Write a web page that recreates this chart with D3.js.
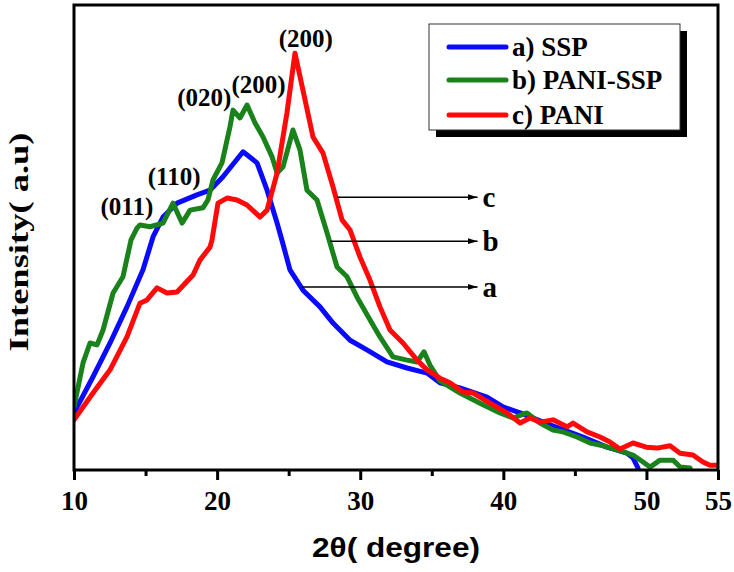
<!DOCTYPE html>
<html>
<head>
<meta charset="utf-8">
<script src="https://cdn.jsdelivr.net/npm/d3@7"></script>
<style>
html,body{margin:0;padding:0;background:#fff;}
svg{display:block;}
</style>
</head>
<body>
<svg id="chart" width="734" height="572"></svg>
<script>
// ---- data (2θ in degrees, intensity in arbitrary units) ----
const seriesNames = ["a) SSP", "b) PANI-SSP", "c) PANI"];
const seriesColors = ["#0a0aff", "#1a821a", "#ff0a0a"];

const sspX = [10.0,11.33,12.52,13.70,14.82,15.52,16.22,17.20,18.59,19.50,20.41,21.81,22.79,23.49,24.19,24.53,25.09,26.00,27.19,28.10,29.29,30.47,31.87,33.27,34.67,35.57,36.97,38.86,39.98,41.17,43.26,45.57,47.24,48.64,49.06,49.41];
const sspY = [11.9,19.7,27.0,34.8,42.8,49.9,54.2,57.2,59.0,60.0,62.9,68.3,65.9,60.0,52.9,49.2,42.8,38.4,34.8,31.3,27.6,25.5,22.9,21.6,20.5,18.4,17.3,15.3,13.2,11.9,9.3,6.7,4.5,3.2,2.2,0];

const paniSspX = [10.0,10.63,11.12,11.61,12.03,12.73,13.42,13.98,14.40,14.61,15.31,16.22,16.92,17.55,18.11,19.01,19.36,19.71,20.34,20.90,21.11,21.60,22.09,22.65,23.21,23.84,24.19,24.60,25.30,25.79,26.28,26.98,27.68,28.38,29.08,29.78,30.68,31.38,32.29,33.27,33.97,34.46,34.88,35.57,36.97,38.37,39.77,40.68,41.65,42.56,43.47,44.17,45.15,46.06,46.97,47.94,49.06,49.76,50.25,50.95,51.86,52.35,53.05];
const paniSspY = [13.2,22.7,27.0,26.6,29.8,37.8,41.3,49.2,51.8,52.5,52.1,52.9,57.2,52.9,55.7,56.2,57.9,62.2,65.9,73.7,77.3,75.6,78.4,74.5,71.5,67.2,63.7,65.0,73.0,68.7,60.0,57.9,50.8,43.4,41.3,36.9,32.0,28.3,24.0,23.3,22.9,25.1,22.2,18.8,16.2,14.0,11.9,10.8,11.9,9.7,8.2,7.8,6.7,5.4,4.8,3.9,2.8,1.3,0.2,1.7,1.7,0.2,0];

const paniX = [10.0,11.33,12.52,13.70,14.61,15.10,15.80,16.50,17.20,18.32,18.80,19.50,19.64,20.06,20.69,21.39,22.09,23.00,23.49,24.19,24.88,25.44,26.00,26.70,27.40,28.10,28.73,29.29,29.98,30.68,31.38,32.08,32.99,33.97,34.67,35.57,36.27,37.18,37.88,39.07,40.26,41.17,41.86,42.56,43.47,44.45,44.87,45.85,46.76,47.45,48.15,49.06,49.99,50.74,51.65,52.35,53.25,53.95,54.44,54.93];
const paniY = [10.4,16.2,21.2,28.3,35.6,36.3,38.9,37.8,38.0,41.7,44.9,47.7,49.2,57.2,58.3,57.9,56.8,54.2,55.7,63.7,76.7,89.6,81.6,71.5,68.0,60.7,53.6,51.4,45.6,40.6,34.8,29.8,27.0,23.3,21.2,19.4,18.4,16.4,16.2,14.0,11.9,9.7,10.8,9.9,10.4,8.9,9.7,7.8,6.7,5.6,4.1,5.4,4.5,4.3,4.8,3.2,2.8,1.3,0.6,0.6];

const majorTicks = [10, 20, 30, 40, 50, 55];
const minorTicks = [15, 25, 35, 45];

const peakLabels = ["(011)", "(110)", "(020)", "(200)", "(200)"];
const peakLabelX = [13.7, 17.0, 19.1, 22.9, 26.2];
const peakLabelY = [54.6, 61.1, 78.2, 81.0, 90.9];

const arrowLabels = ["c", "b", "a"];
const arrowStartX = [28.4, 27.9, 25.95];
const arrowY = [58.5, 49.0, 39.1];
const arrowEndX = 38.2;

// ---- drawing ----
const svg = d3.select("#chart");
const L = 74, R = 718, T = 5, B = 470;
const x = d3.scaleLinear().domain([10, 55]).range([L, R]);
const y = d3.scaleLinear().domain([0, 100]).range([468, T]);

const defs = svg.append("defs");
defs.append("marker").attr("id", "arr").attr("viewBox", "0 0 10 6")
  .attr("refX", 10).attr("refY", 3).attr("markerWidth", 10).attr("markerHeight", 6)
  .attr("markerUnits", "userSpaceOnUse").attr("orient", "auto")
  .append("path").attr("d", "M0,0 L10,3 L0,6 Z").attr("fill", "#000");
defs.append("clipPath").attr("id", "clip").append("rect")
  .attr("x", L).attr("y", T).attr("width", R - L).attr("height", B - T);

const series = [
  {xs: sspX, ys: sspY},
  {xs: paniSspX, ys: paniSspY},
  {xs: paniX, ys: paniY}
];
const line = d3.line().x(d => x(d[0])).y(d => y(d[1])).curve(d3.curveLinear);

const g = svg.append("g").attr("clip-path", "url(#clip)");
series.forEach((s, i) => {
  g.append("path")
    .datum(s.xs.map((v, k) => [v, s.ys[k]]))
    .attr("d", line)
    .attr("fill", "none")
    .attr("stroke", seriesColors[i])
    .attr("stroke-width", 5)
    .attr("stroke-linejoin", "round")
    .attr("stroke-linecap", "round");
});

// frame
svg.append("rect").attr("x", L).attr("y", T).attr("width", R - L).attr("height", B - T)
  .attr("fill", "none").attr("stroke", "#000").attr("stroke-width", 3);

// x axis
const ax = svg.append("g").attr("transform", `translate(0,${B})`)
  .call(d3.axisBottom(x).tickValues(majorTicks).tickSize(10).tickPadding(11).tickFormat(d3.format("d")));
ax.select(".domain").remove();
ax.selectAll(".tick line").attr("stroke", "#000").attr("stroke-width", 3);
ax.selectAll(".tick text").attr("fill", "#000")
  .style("font-family", "'Liberation Serif','Times New Roman',serif")
  .style("font-weight", "bold").style("font-size", "27px");
const axm = svg.append("g").attr("transform", `translate(0,${B})`)
  .call(d3.axisBottom(x).tickValues(minorTicks).tickSize(6).tickFormat(""));
axm.select(".domain").remove();
axm.selectAll(".tick line").attr("stroke", "#000").attr("stroke-width", 3);

// axis titles
svg.append("text").attr("x", 396).attr("y", 557).attr("text-anchor", "middle")
  .attr("textLength", 168).attr("lengthAdjust", "spacingAndGlyphs")
  .style("font-family", "'Liberation Sans',Arial,sans-serif").style("font-weight", "bold")
  .style("font-size", "27px").text("2θ( degree)");
svg.append("text").attr("transform", "translate(28,242) rotate(-90)").attr("text-anchor", "middle")
  .attr("textLength", 219).attr("lengthAdjust", "spacingAndGlyphs")
  .style("font-family", "'Liberation Serif','Times New Roman',serif").style("font-weight", "bold")
  .style("font-size", "28px").text("Intensity( a.u)");

// peak labels
peakLabels.forEach((t, i) => {
  svg.append("text").attr("x", x(peakLabelX[i])).attr("y", y(peakLabelY[i]))
    .attr("text-anchor", "middle")
    .style("font-family", "'Liberation Serif','Times New Roman',serif").style("font-weight", "bold")
    .style("font-size", "25px").text(t);
});

// arrows
arrowLabels.forEach((t, i) => {
  svg.append("line").attr("x1", x(arrowStartX[i])).attr("x2", x(arrowEndX))
    .attr("y1", y(arrowY[i])).attr("y2", y(arrowY[i]))
    .attr("stroke", "#000").attr("stroke-width", 1.5).attr("marker-end", "url(#arr)");
  svg.append("text").attr("x", x(arrowEndX) + 5).attr("y", y(arrowY[i]) + 10)
    .style("font-family", "'Liberation Serif','Times New Roman',serif").style("font-weight", "bold")
    .style("font-size", "29px").text(t);
});

// legend
const lg = svg.append("g");
lg.append("rect").attr("x", 436).attr("y", 31).attr("width", 251).attr("height", 106).attr("fill", "#000");
lg.append("rect").attr("x", 429).attr("y", 24).attr("width", 251).attr("height", 106)
  .attr("fill", "#fff").attr("stroke", "#333").attr("stroke-width", 1);
const rowY = [47, 80, 115];
seriesNames.forEach((n, i) => {
  lg.append("line").attr("x1", 449).attr("x2", 506).attr("y1", rowY[i]).attr("y2", rowY[i])
    .attr("stroke", seriesColors[i]).attr("stroke-width", 5).attr("stroke-linecap", "round");
  lg.append("text").attr("x", 512).attr("y", rowY[i] + 9)
    .style("font-family", "'Liberation Serif','Times New Roman',serif").style("font-weight", "bold")
    .style("font-size", "27px").text(n);
});
</script>
</body>
</html>
